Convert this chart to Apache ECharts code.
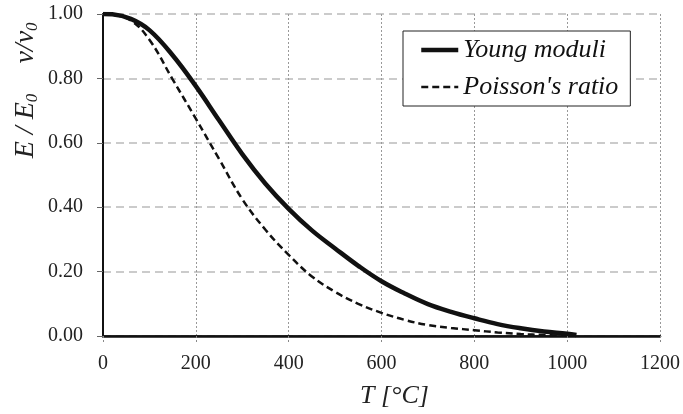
<!DOCTYPE html>
<html>
<head>
<meta charset="utf-8">
<script src="https://cdn.jsdelivr.net/npm/echarts@6/dist/echarts.min.js"></script>
<style>html,body{margin:0;padding:0;background:#fff;}#c{width:683px;height:414px;}</style>
</head>
<body>
<div id="c"></div>
<script>
const tYoung = [0, 20, 60, 100, 150, 200, 250, 300, 350, 400, 450, 500, 550, 600, 650, 700, 750, 800, 850, 900, 950, 1000, 1020];
const youngModuli = [1.0, 0.999, 0.985, 0.95, 0.872, 0.776, 0.67, 0.565, 0.473, 0.395, 0.328, 0.272, 0.218, 0.17, 0.132, 0.099, 0.075, 0.055, 0.037, 0.024, 0.014, 0.007, 0.003];
const tPoisson = [0, 20, 60, 100, 150, 200, 250, 300, 350, 400, 450, 500, 550, 600, 650, 700, 750, 800, 850, 900, 950, 1000];
const poissonRatio = [1.0, 0.998, 0.98, 0.92, 0.797, 0.675, 0.55, 0.425, 0.33, 0.252, 0.185, 0.137, 0.1, 0.072, 0.05, 0.034, 0.025, 0.018, 0.011, 0.006, 0.003, 0.0];
const xTicks = [0, 200, 400, 600, 800, 1000, 1200];
const yTicks = [0, 0.2, 0.4, 0.6, 0.8, 1.0];
const seriesNames = ['Young moduli', "Poisson's ratio"];

const serif = '"Liberation Serif", "DejaVu Serif", serif';
const chart = echarts.init(document.getElementById('c'), null, {renderer: 'canvas'});
const yData = tYoung.map((t, i) => [t, youngModuli[i]]);
const pData = tPoisson.map((t, i) => [t, poissonRatio[i]]);

chart.setOption({
  animation: false,
  backgroundColor: '#fff',
  grid: {left: 103, right: 23, top: 14, bottom: 78, containLabel: false},
  xAxis: [{
    type: 'value', min: xTicks[0], max: xTicks[xTicks.length - 1], interval: 200,
    name: 'T [°C]', nameLocation: 'middle', nameGap: 47,
    nameTextStyle: {fontFamily: serif, fontStyle: 'italic', fontSize: 26, color: '#222', padding: [0, 0, 0, 26]},
    axisLine: {show: true, onZero: false, lineStyle: {color: '#222', width: 1.5}},
    axisTick: {show: true, length: 6, lineStyle: {color: '#888', type: [2, 2]}},
    axisLabel: {fontFamily: serif, fontSize: 20, color: '#222', margin: 18, formatter: v => String(v)},
    splitLine: {show: true, lineStyle: {color: '#999', width: 1, type: [2, 2]}}
  }, {
    type: 'value', position: 'top', min: 0, max: 1200,
    axisLine: {show: true, lineStyle: {color: '#111', width: 2.5}},
    axisTick: {show: false}, axisLabel: {show: false}, splitLine: {show: false}
  }],
  yAxis: [{
    type: 'value', min: yTicks[0], max: yTicks[yTicks.length - 1], interval: 0.2,
    axisLine: {show: true, onZero: false, lineStyle: {color: '#777', width: 2}},
    axisTick: {show: true, length: 6, lineStyle: {color: '#666'}},
    axisLabel: {fontFamily: serif, fontSize: 20, color: '#222', margin: 20, formatter: v => v.toFixed(2)},
    splitLine: {show: true, lineStyle: {color: '#bbb', width: 1.5, type: [8, 5]}}
  }, {
    type: 'value', position: 'right', min: 0, max: 1,
    axisLine: {show: true, lineStyle: {color: '#111', width: 2}},
    axisTick: {show: false}, axisLabel: {show: false}, splitLine: {show: false}
  }],
  legend: {
    orient: 'vertical', left: 403, top: 31,
    backgroundColor: '#fff', borderColor: '#222', borderWidth: 1, borderRadius: 0,
    padding: [6, 12, 6, 16], itemGap: 11, itemWidth: 37, itemHeight: 14,
    itemStyle: {opacity: 0},
    lineStyle: {width: 'inherit'},
    textStyle: {fontFamily: serif, fontStyle: 'italic', fontSize: 26, lineHeight: 26, color: '#111'},
    data: seriesNames
  },
  graphic: [{
    type: 'text', x: 26, y: 126, rotation: Math.PI / 2,
    style: {
      text: '{a|E / E}{s|0}',
      align: 'center', verticalAlign: 'middle',
      rich: {
        a: {fontFamily: serif, fontStyle: 'italic', fontSize: 28, fill: '#222', lineHeight: 30, verticalAlign: 'middle'},
        s: {fontFamily: serif, fontStyle: 'italic', fontSize: 17, fill: '#222', lineHeight: 30, verticalAlign: 'bottom', padding: [10, 0, 0, 0]}
      }
    }
  }, {
    type: 'text', x: 26, y: 43, rotation: Math.PI / 2,
    style: {
      text: '{a|ν/ν}{s|0}',
      align: 'center', verticalAlign: 'middle',
      rich: {
        a: {fontFamily: serif, fontStyle: 'italic', fontSize: 28, fill: '#222', lineHeight: 30, verticalAlign: 'middle'},
        s: {fontFamily: serif, fontStyle: 'italic', fontSize: 17, fill: '#222', lineHeight: 30, verticalAlign: 'bottom', padding: [10, 0, 0, 0]}
      }
    }
  }],
  series: [{
    name: seriesNames[0], type: 'line', data: yData, smooth: 0.4, symbol: 'none',
    lineStyle: {color: '#111', width: 4.5}, itemStyle: {color: '#111'}, z: 3
  }, {
    name: seriesNames[1], type: 'line', data: pData, smooth: 0.4, symbol: 'none',
    lineStyle: {color: '#111', width: 2.5, type: [7, 4]}, itemStyle: {color: '#111'}, z: 2
  }]
});
</script>
</body>
</html>
